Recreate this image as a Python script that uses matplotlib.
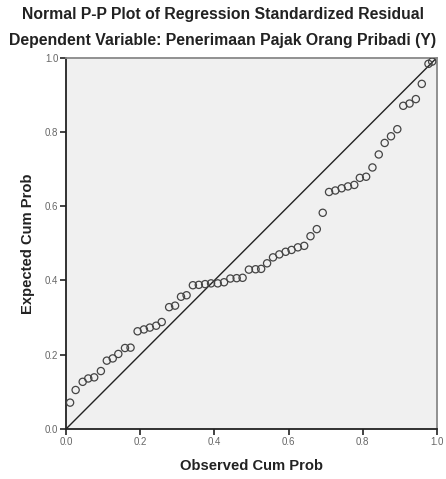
import matplotlib
matplotlib.use("Agg")
import matplotlib.pyplot as plt

# Observed cumulative probability (x) and expected cumulative probability (y)
observed_cum_prob = [
    0.011, 0.026, 0.045, 0.060, 0.076, 0.094, 0.110, 0.126, 0.141, 0.159,
    0.174, 0.193, 0.210, 0.226, 0.243, 0.258, 0.278, 0.294, 0.310, 0.325,
    0.342, 0.358, 0.375, 0.391, 0.409, 0.426, 0.443, 0.460, 0.476, 0.493,
    0.511, 0.526, 0.542, 0.558, 0.575, 0.592, 0.608, 0.625, 0.642, 0.659,
    0.676, 0.692, 0.709, 0.726, 0.743, 0.760, 0.777, 0.792, 0.809, 0.826,
    0.843, 0.859, 0.876, 0.893, 0.909, 0.926, 0.943, 0.959, 0.977, 0.987,
]
expected_cum_prob = [
    0.071, 0.105, 0.127, 0.136, 0.139, 0.156, 0.184, 0.190, 0.202, 0.218,
    0.219, 0.263, 0.268, 0.273, 0.278, 0.288, 0.328, 0.332, 0.356, 0.360,
    0.387, 0.388, 0.390, 0.392, 0.392, 0.395, 0.405, 0.406, 0.407, 0.429,
    0.430, 0.431, 0.446, 0.462, 0.470, 0.477, 0.482, 0.489, 0.493, 0.519,
    0.538, 0.582, 0.638, 0.642, 0.648, 0.653, 0.657, 0.676, 0.679, 0.704,
    0.739, 0.770, 0.788, 0.807, 0.870, 0.876, 0.888, 0.929, 0.983, 0.989,
]
ticks = [0.0, 0.2, 0.4, 0.6, 0.8, 1.0]
tick_labels = ["0.0", "0.2", "0.4", "0.6", "0.8", "1.0"]

plt.rcParams['font.family'] = ['Liberation Sans', 'DejaVu Sans']

fig = plt.figure(figsize=(4.46, 4.79), dpi=100)
ax = fig.add_axes([66/446, 1 - 429/479, (437 - 66)/446, (429 - 57.5)/479])
ax.set_facecolor('#f0f0f0')

ax.plot([0, 1], [0, 1], color='#222222', linewidth=1.0, zorder=2)
ax.scatter(observed_cum_prob, expected_cum_prob, s=27, marker='o',
           facecolors='none', edgecolors='#444444', linewidths=0.9, zorder=3)

ax.set_xlim(0, 1)
ax.set_ylim(0, 1)
ax.set_xticks(ticks)
ax.set_xticklabels(tick_labels)
ax.set_yticks(ticks)
ax.set_yticklabels(tick_labels)
ax.tick_params(axis='both', direction='out', length=4, width=1.2, color='#222222',
               labelsize=7, labelcolor='#666666', pad=1.5)

for side in ['left', 'bottom']:
    ax.spines[side].set_color('#222222')
    ax.spines[side].set_linewidth(1.3)
for side in ['top', 'right']:
    ax.spines[side].set_color('#888888')
    ax.spines[side].set_linewidth(1.3)

ax.set_xlabel('Observed Cum Prob', fontsize=10.6, fontweight='bold', color='#222222', labelpad=9)
ax.set_ylabel('Expected Cum Prob', fontsize=10.6, fontweight='bold', color='#222222', labelpad=7)

fig.text(0.5, 1 - 15/479, 'Normal P-P Plot of Regression Standardized Residual',
         ha='center', va='center', fontsize=11.3, fontweight='bold', color='#222222')
fig.text(0.5, 1 - 41/479, 'Dependent Variable: Penerimaan Pajak Orang Pribadi (Y)',
         ha='center', va='center', fontsize=11.4, fontweight='bold', color='#222222')

fig.savefig('out.png', dpi=100)
